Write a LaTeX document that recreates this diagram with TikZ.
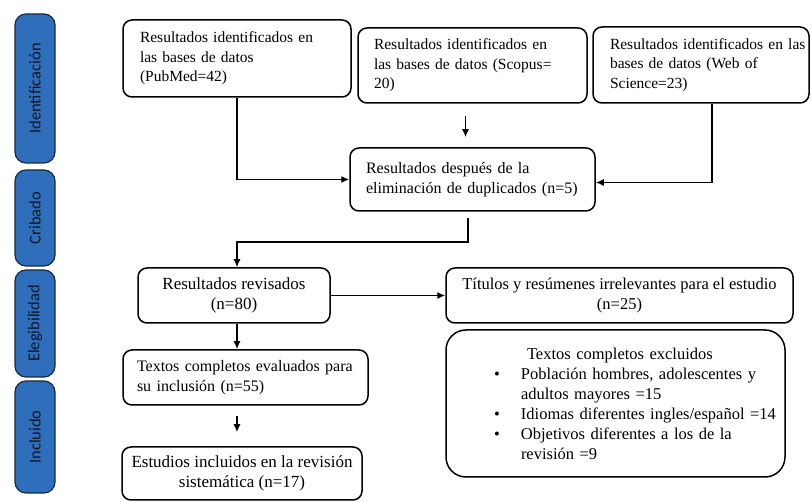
\documentclass[tikz,border=0pt]{standalone}
\usepackage{fontspec}
\setmainfont{Liberation Serif}
\newfontfamily\sidefont{Carlito}
\usetikzlibrary{arrows.meta}
\definecolor{sideblue}{HTML}{2F6EBA}
\definecolor{sideedge}{HTML}{1A2A40}
\definecolor{sidetext}{HTML}{101828}
\tikzset{
  box/.style={draw, line width=1.5pt, rounded corners=9pt, inner ysep=0pt,
    font=\fontsize{15.5}{19.5}\selectfont},
  sidebox/.style={draw=sideedge, fill=sideblue, line width=1.2pt, rounded corners=11pt,
    rotate=90, minimum height=40pt, inner sep=0pt, text=sidetext,
    font=\sidefont\fontsize{16.5}{19}\selectfont},
  arr/.style={line width=1.4pt, -{Latex[length=8pt,width=7pt]}},
}
\begin{document}
\begin{tikzpicture}[x=1pt,y=-1pt]
\useasboundingbox[fill=white] (0,0) rectangle (812,502);
% side labels
\node[sidebox, minimum width=149pt] (s1) at (35,88.5) {Identificación};
\node[sidebox, minimum width=96pt] (s2) at (35,218) {Cribado};
\node[sidebox, minimum width=107pt] (s3) at (35,323.5) {Elegibilidad};
\node[sidebox, minimum width=112pt] (s4) at (35,437) {Incluido};
% main boxes
\node[box, minimum width=228pt, minimum height=77pt, inner xsep=17pt, text width=194pt, align=left] (b1) at (237,58.5)
  {Resultados identificados en\\las bases de datos\\(PubMed=42)};
\node[box, minimum width=229pt, minimum height=75pt, inner xsep=16pt, text width=197pt, align=left] (b2) at (472.5,65.5)
  {\mbox{Resultados identificados en}\\\mbox{las bases de datos (Scopus=}\\20)};
\node[box, minimum width=216pt, minimum height=76pt, inner xsep=17pt, text width=182pt, align=left] (b3) at (701,65)
  {\mbox{Resultados identificados en las}\\\mbox{bases de datos (Web of}\\\mbox{Science=23)}};
\node[box, minimum width=245pt, minimum height=63pt, inner xsep=16pt, text width=213pt, align=left,
  font=\fontsize{16}{20}\selectfont] (b4) at (472.5,179.5)
  {Resultados después de la\\\mbox{eliminación de duplicados (n=5)}};
\node[box, minimum width=192pt, minimum height=55pt, align=center,
  font=\fontsize{17}{20}\selectfont] (b5) at (234,295.5)
  {Resultados revisados\\(n=80)};
\node[box, minimum width=347pt, minimum height=55pt, align=center,
  font=\fontsize{16.5}{20}\selectfont] (b6) at (619.5,295.5)
  {Títulos y resúmenes irrelevantes para el estudio\\(n=25)};
\node[box, rounded corners=20pt, minimum width=339pt, minimum height=147pt, inner xsep=10pt, text width=319pt, align=left,
  font=\fontsize{16.5}{20}\selectfont] (b7) at (615.5,403.5)
  {\hspace*{71pt}Textos completos excluidos\\
   \hspace*{38pt}\makebox[27pt][l]{\textbullet}\mbox{Población hombres, adolescentes y}\\
   \hspace*{65pt}adultos mayores =15\\
   \hspace*{38pt}\makebox[27pt][l]{\textbullet}\mbox{Idiomas diferentes ingles/español =14}\\
   \hspace*{38pt}\makebox[27pt][l]{\textbullet}\mbox{Objetivos diferentes a los de la}\\
   \hspace*{65pt}revisión =9};
\node[box, minimum width=245pt, minimum height=55pt, inner xsep=14pt, text width=217pt, align=left,
  font=\fontsize{16}{20}\selectfont] (b8) at (245.5,377.5)
  {\mbox{Textos completos evaluados para}\\su inclusión (n=55)};
\node[box, minimum width=240pt, minimum height=53pt, align=center,
  font=\fontsize{17}{20}\selectfont] (b9) at (242,473.5)
  {Estudios incluidos en la revisión\\sistemática (n=17)};
% connectors
\coordinate (k1) at (468,242);
\draw[arr] (b1.south) |- (b4.west);
\draw[arr] ([xshift=-7pt,yshift=-12pt]b2.south) -- ([xshift=-7pt,yshift=10pt]b4.north);
\draw[arr] ([xshift=11pt]b3.south) |- ([yshift=-3pt]b4.east);
\draw[arr] ([xshift=-4.5pt,yshift=-6pt]b4.south) -- (k1) -| ([xshift=3pt]b5.north);
\draw[arr] (b5.east) -- (b6.west);
\draw[arr] ([xshift=3pt]b5.south) -- ([xshift=3pt]b5.south |- b8.north);
\draw[arr] ([xshift=-8.5pt,yshift=-10pt]b8.south) -- ([xshift=-5pt,yshift=14pt]b9.north);
\end{tikzpicture}
\end{document}
